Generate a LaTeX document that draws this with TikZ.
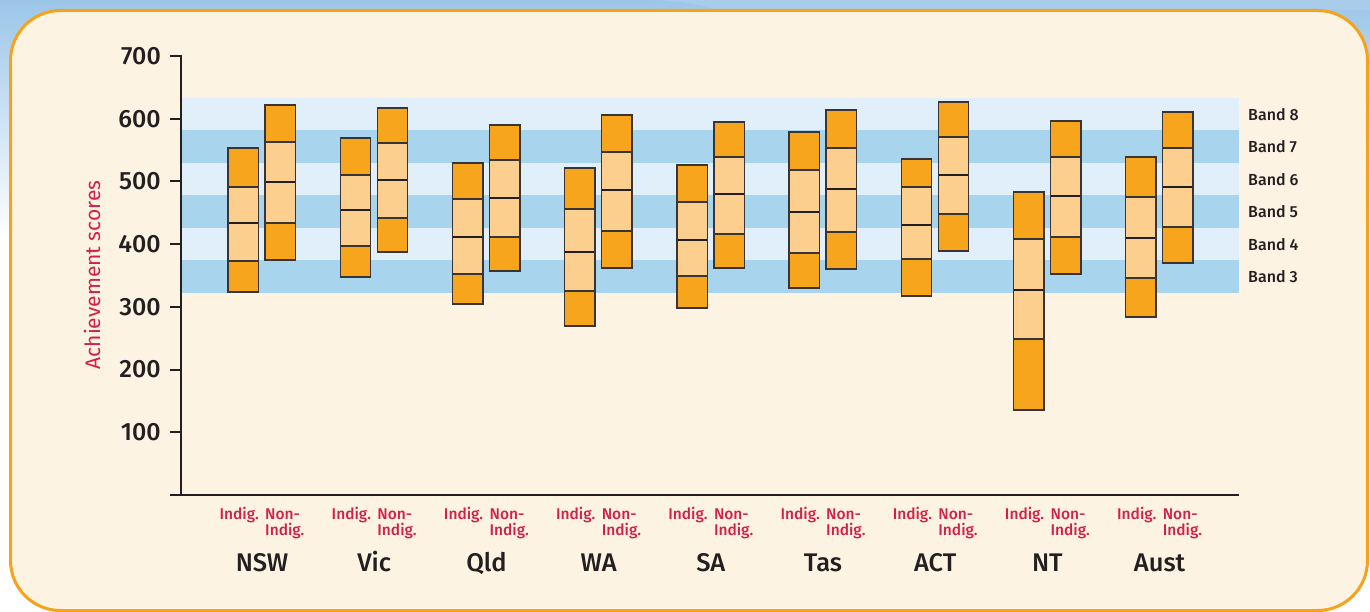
\documentclass[tikz,border=0pt]{standalone}
\usepackage{fontspec}
\setmainfont{Fira Sans}
\newfontfamily\medf{Fira Sans Medium}
\definecolor{cream}{HTML}{FDF3E3}
\definecolor{bord}{HTML}{F7A21B}
\definecolor{dorange}{HTML}{F8A51E}
\definecolor{lorange}{HTML}{FDCF8F}
\definecolor{lband}{HTML}{E1EFFA}
\definecolor{dband}{HTML}{A9D4EE}
\definecolor{sky}{HTML}{9CC6E8}
\definecolor{skyl}{HTML}{A8CCEA}
\definecolor{txt}{HTML}{231F20}
\definecolor{crim}{HTML}{D2204A}
\newcommand\sbar[6]{%
  \fill[dorange] (#1,#2) rectangle ({#1+30.5},#3);
  \fill[lorange] (#1,#3) rectangle ({#1+30.5},#5);
  \fill[dorange] (#1,#5) rectangle ({#1+30.5},#6);
  \draw[barline] (#1,#3) -- ({#1+30.5},#3);
  \draw[barline] (#1,#5) -- ({#1+30.5},#5);
  \draw[medline] (#1,#4) -- ({#1+30.5},#4);
  \draw[barline] (#1,#2) rectangle ({#1+30.5},#6);
}
\begin{document}
\begin{tikzpicture}[x=1pt,y=-1pt,
  barline/.style={draw=txt!90, line width=1.4pt},
  medline/.style={draw=txt, line width=2.6pt},
  axis/.style={draw=txt, line width=2pt},
  tick/.style={font=\medf\fontsize{25}{28}\selectfont, text=txt, inner sep=0pt, anchor=east},
  grp/.style={font=\medf\fontsize{15.5}{17}\selectfont, text=crim, inner sep=0pt},
  state/.style={font=\medf\fontsize{25.5}{28}\selectfont, text=txt, inner sep=0pt, anchor=base},
  bandlab/.style={font=\medf\fontsize{16}{18}\selectfont, text=txt, inner sep=0pt, anchor=west},
]
\useasboundingbox (0,0) rectangle (1370,612);
% outer background
\fill[white] (0,0) rectangle (1370,612);
\shade[top color=sky, bottom color=white] (0,0) rectangle (1370,240);
\fill[skyl] (655,0) .. controls (690,2) and (705,6) .. (715,10) -- (1370,10) -- (1370,0) -- cycle;
% main panel
\draw[draw=bord, fill=cream, line width=3pt, rounded corners=50pt] (10.5,10.5) rectangle (1367.5,610.5);
% bands
\foreach \k/\c in {0/lband,1/dband,2/lband,3/dband,4/lband,5/dband}{
  \fill[\c] (181,{98+32.5*\k}) rectangle (1239,{98+32.5*(\k+1)});
}
\foreach \k/\t in {0/8,1/7,2/6,3/5,4/4,5/3}{
  \node[bandlab] (band\t) at (1248,{114.25+32.5*\k}) {Band \t};
}
% axes
\draw[axis] (170,56) -- (181,56) -- (181,495);
\draw[axis] (170,495) -- (1239,495);
\foreach \v in {100,200,300,400,500,600}{
  \draw[axis] (170,{495-0.627*\v}) -- (181,{495-0.627*\v});
}
\foreach \v in {100,200,300,400,500,600,700}{
  \node[tick] (t\v) at (161,{495-0.627*\v}) {\v};
}
\node[font=\fontsize{21}{24}\selectfont, text=crim, rotate=90, inner sep=0pt] (ylab) at (92,275) {Achievement scores};
% bars
\foreach \i/\a/\b/\c/\d/\e/\f/\g/\h/\m/\n/\s in {
 0/148/187/223/261/292/105/142/182/223/260/NSW,
 1/138/175/210/246/277/108/143/180/218/252/Vic,
 2/163/199/237/274/304/125/160/198/237/271/Qld,
 3/168/209/252/291/326/115/152/190/231/268/WA,
 4/165/202/240/276/308/122/157/194/234/268/SA,
 5/132/170/212/253/288/110/148/189/232/269/Tas,
 6/159/187/225/259/296/102/137/175/214/251/ACT,
 7/192/239/290/339/410/121/157/196/237/274/NT,
 8/157/197/238/278/317/112/148/187/227/263/Aust}{
  \pgfmathsetmacro\xl{228+112.2*\i}
  \pgfmathsetmacro\xr{265+112.2*\i}
  \sbar{\xl}{\a}{\b}{\c}{\d}{\e}
  \sbar{\xr}{\f}{\g}{\h}{\m}{\n}
  \node[grp, anchor=base east] (ia\i) at ({\xl+31},519) {Indig.};
  \node[grp, anchor=base west] (na\i) at ({\xr},519) {Non-};
  \node[grp, anchor=base west] (nb\i) at ({\xr},535) {Indig.};
  \node[state] (s\i) at ({262+112.2*\i},571) {\s};
}
\end{tikzpicture}
\end{document}
